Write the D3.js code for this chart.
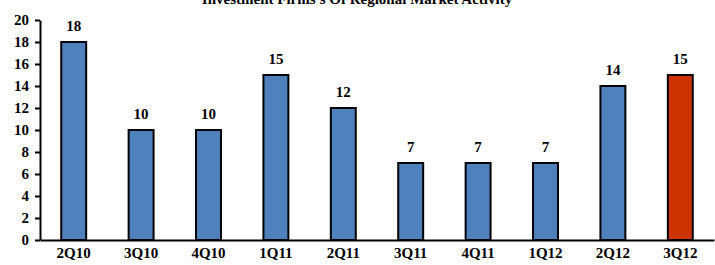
<!DOCTYPE html>
<html>
<head>
<meta charset="utf-8">
<script src="https://cdn.jsdelivr.net/npm/d3@7"></script>
<style>
  body { margin: 0; background: #fff; }
</style>
</head>
<body>
<script>
const quarters = ["2Q10", "3Q10", "4Q10", "1Q11", "2Q11", "3Q11", "4Q11", "1Q12", "2Q12", "3Q12"]
const counts = [18, 10, 10, 15, 12, 7, 7, 7, 14, 15]
const yTicks = [0, 2, 4, 6, 8, 10, 12, 14, 16, 18, 20]
const highlight = "3Q12"

const width = 715, height = 265
const blue = "#4f81bd", red = "#cc3300"
const font = "'Liberation Serif', 'Times New Roman', serif"

const svg = d3.select("body").append("svg")
    .attr("width", width)
    .attr("height", height)
    .attr("font-family", font)
    .attr("font-weight", "bold")

const x = d3.scaleBand()
    .domain(quarters)
    .range([40, 714])
    .paddingInner(0.63)
    .paddingOuter(0.315)

const y = d3.scaleLinear()
    .domain([0, 20])
    .range([240, 20])

// title, cut off at top like the original
svg.append("text")
    .attr("x", 357)
    .attr("y", 4)
    .attr("text-anchor", "middle")
    .attr("font-family", font)
    .style("font-size", "15px")
    .text("Investment Firms's Of Regional Market Activity")

// bars
svg.selectAll("rect.bar")
    .data(quarters)
    .enter().append("rect")
    .attr("class", "bar")
    .attr("x", d => x(d))
    .attr("y", (d, i) => y(counts[i]))
    .attr("width", x.bandwidth())
    .attr("height", (d, i) => y(0) - y(counts[i]))
    .attr("fill", d => d == highlight ? red : blue)
    .attr("stroke", "#000")
    .attr("stroke-width", 2)

// value labels
svg.selectAll("text.val")
    .data(quarters)
    .enter().append("text")
    .attr("class", "val")
    .attr("x", d => x(d) + x.bandwidth() / 2)
    .attr("y", (d, i) => y(counts[i]) - 11)
    .attr("text-anchor", "middle")
    .attr("font-family", font)
    .style("font-size", "15px")
    .text((d, i) => counts[i])

// y axis
const yAxis = svg.append("g")
    .attr("transform", "translate(40,0)")
    .call(d3.axisLeft(y).tickValues(yTicks).tickSize(5).tickPadding(6).tickSizeOuter(0))
yAxis.attr("font-family", font).attr("font-size", 15).attr("font-weight", "bold")
yAxis.select(".domain").attr("stroke", "#000").attr("stroke-width", 2)
yAxis.selectAll(".tick line").attr("stroke-width", 2)
yAxis.selectAll(".tick text").attr("fill", "#000")

// x axis
const xAxis = svg.append("g")
    .attr("transform", "translate(0,240)")
    .call(d3.axisBottom(x).tickSize(0).tickPadding(7).tickSizeOuter(0))
xAxis.attr("font-family", font).attr("font-size", 15).attr("font-weight", "bold")
xAxis.select(".domain").attr("stroke", "#000").attr("stroke-width", 2)
xAxis.selectAll(".tick text").attr("fill", "#000")
</script>
</body>
</html>
